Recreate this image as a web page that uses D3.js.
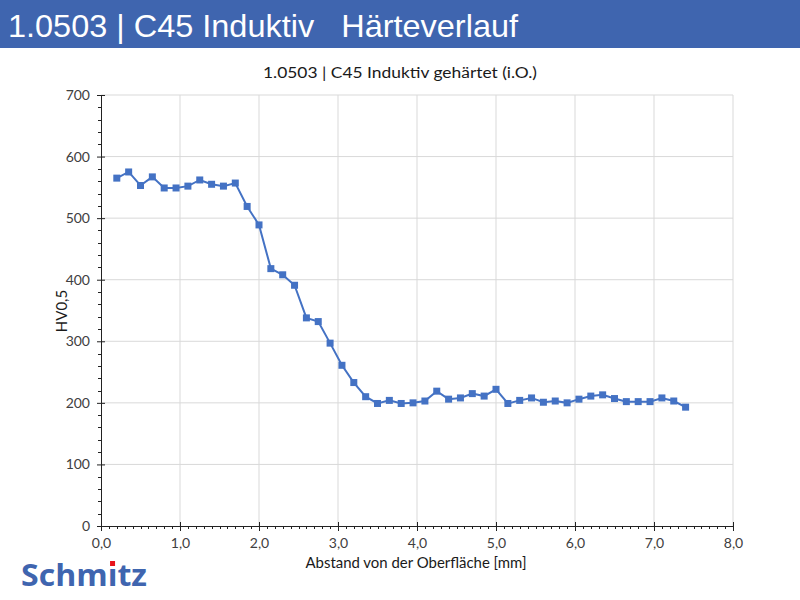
<!DOCTYPE html>
<html><head><meta charset="utf-8">
<script src="https://cdn.jsdelivr.net/npm/d3@7"></script>
<style>
body{margin:0;background:#fff;}
svg{display:block;}
</style></head>
<body>
<svg id="chart" width="800" height="600"></svg>
<script>
const headerTitle = "1.0503 | C45 Induktiv   Härteverlauf";
const chartTitle = "1.0503 | C45 Induktiv gehärtet (i.O.)";
const xLabel = "Abstand von der Oberfläche [mm]";
const yLabel = "HV0,5";
const depth = [0.2,0.35,0.5,0.65,0.8,0.95,1.1,1.25,1.4,1.55,1.7,1.85,2.0,2.15,2.3,2.45,2.6,2.75,2.9,3.05,3.2,3.35,3.5,3.65,3.8,3.95,4.1,4.25,4.4,4.55,4.7,4.85,5.0,5.15,5.3,5.45,5.6,5.75,5.9,6.05,6.2,6.35,6.5,6.65,6.8,6.95,7.1,7.25,7.4];
const hardness = [565,575,553,567,549,549,552,562,555,552,557,519,489,418,408,391,338,332,297,261,233,210,199,204,199,200,203,219,206,208,215,211,222,199,204,208,201,203,200,206,211,213,207,202,202,202,208,203,193];
const xTicks = [0,1,2,3,4,5,6,7,8];
const yTicks = [0,100,200,300,400,500,600,700];

const svg = d3.select("#chart");
const blue = "#3F65AF";
const lineBlue = "#4472C4";
const fontChart = "Lato, 'Open Sans', sans-serif";

// header
svg.append("rect").attr("x",0).attr("y",0).attr("width",800).attr("height",48).attr("fill",blue);
svg.append("text").attr("x",8).attr("y",37).attr("fill","#fff")
  .attr("font-family","'Liberation Sans', Arial, sans-serif").attr("font-size",32)
  .attr("textLength",510).attr("lengthAdjust","spacingAndGlyphs")
  .style("white-space","pre").text(headerTitle);

const x = d3.scaleLinear().domain([0,8]).range([101,733]);
const y = d3.scaleLinear().domain([0,700]).range([526,95]);

svg.append("text").attr("x",400).attr("y",78).attr("text-anchor","middle")
  .attr("font-family",fontChart).attr("font-size",15.5).attr("fill","#1a1a1a")
  .attr("textLength",274).attr("lengthAdjust","spacingAndGlyphs").text(chartTitle);

// grid
const g = svg.append("g");
g.selectAll(".vg").data(xTicks.filter(d=>d>0)).join("line")
  .attr("x1",d=>x(d)).attr("x2",d=>x(d)).attr("y1",y(700)).attr("y2",y(0))
  .attr("stroke","#d9d9d9").attr("stroke-width",1);
g.selectAll(".hg").data(yTicks.filter(d=>d>0)).join("line")
  .attr("y1",d=>y(d)).attr("y2",d=>y(d)).attr("x1",x(0)).attr("x2",x(8))
  .attr("stroke","#d9d9d9").attr("stroke-width",1);

// minor ticks
const yMinor = d3.range(0,701,20).filter(v=>v%100!==0);
const xMinor = d3.range(0,81,1).map(v=>v/10).filter((v,i)=>i%10!==0);
svg.append("g").selectAll("line").data(yMinor).join("line")
  .attr("x1",x(0)-3).attr("x2",x(0)).attr("y1",d=>Math.round(y(d))+0.5).attr("y2",d=>Math.round(y(d))+0.5)
  .attr("stroke","#222");
svg.append("g").selectAll("line").data(xMinor).join("line")
  .attr("y1",y(0)).attr("y2",y(0)+3).attr("x1",d=>Math.round(x(d))+0.5).attr("x2",d=>Math.round(x(d))+0.5)
  .attr("stroke","#222");

// axes
const yAxis = d3.axisLeft(y).tickValues(yTicks).tickSize(4).tickFormat(d3.format("d"));
const ya = svg.append("g").attr("transform",`translate(${x(0)},0)`).call(yAxis);
ya.select(".domain").attr("stroke","#222");
ya.selectAll(".tick line").attr("stroke","#222").attr("x2",-4).attr("x1",4);
ya.selectAll(".tick text").attr("font-family",fontChart).attr("font-size",14).attr("fill","#404040").attr("x",-11);

const xAxis = d3.axisBottom(x).tickValues(xTicks).tickSize(4).tickFormat(d=>d3.format(".1f")(d).replace(".",","));
const xa = svg.append("g").attr("transform",`translate(0,${y(0)})`).call(xAxis);
xa.select(".domain").attr("stroke","#222");
xa.selectAll(".tick line").attr("stroke","#222").attr("y1",-4).attr("y2",5);
xa.selectAll(".tick text").attr("font-family",fontChart).attr("font-size",14).attr("fill","#404040").attr("y",12);

// axis labels
svg.append("text").attr("transform","translate(67,311) rotate(-90)").attr("text-anchor","middle")
  .attr("font-family",fontChart).attr("font-size",15).attr("fill","#1a1a1a").text(yLabel);
svg.append("text").attr("x",416).attr("y",568).attr("text-anchor","middle")
  .attr("font-family",fontChart).attr("font-size",15).attr("fill","#1a1a1a")
  .attr("textLength",221).attr("lengthAdjust","spacingAndGlyphs").text(xLabel);

// data
const data = depth.map((d,i)=>({x:d,y:hardness[i]}));
svg.append("path").datum(data).attr("fill","none").attr("stroke",lineBlue).attr("stroke-width",2)
  .attr("d",d3.line().x(d=>x(d.x)).y(d=>y(d.y)));
svg.append("g").selectAll("rect").data(data).join("rect")
  .attr("x",d=>x(d.x)-3.5).attr("y",d=>y(d.y)-3.5).attr("width",7).attr("height",7)
  .attr("fill",lineBlue);

// logo
const logo = svg.append("text").attr("x",21).attr("y",586)
  .attr("font-family","'Open Sans', 'DejaVu Sans', sans-serif").attr("font-weight","bold").attr("font-size",31)
  .attr("fill","#3F65AF").attr("textLength",126).attr("lengthAdjust","spacingAndGlyphs").text("Schm\u0131tz");
const ln = logo.node();
const s = ln.getStartPositionOfChar(4), e = ln.getEndPositionOfChar(4);
const cx = (s.x+e.x)/2;
svg.append("rect").attr("x",cx-2.5).attr("y",561).attr("width",5).attr("height",5).attr("fill","#e8141b");
</script>
</body></html>
